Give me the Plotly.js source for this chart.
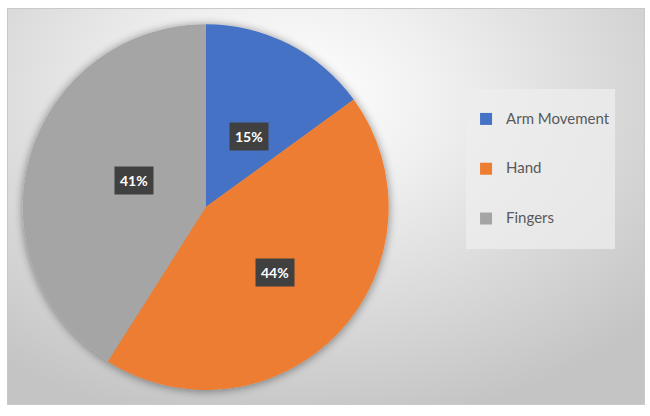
<!DOCTYPE html>
<html>
<head>
<meta charset="utf-8">
<script src="https://cdn.plot.ly/plotly-3.0.1.min.js"></script>
<style>
  html, body { margin: 0; padding: 0; background: #ffffff; }
  #wrap { position: relative; width: 650px; height: 416px; }
  #frame {
    position: absolute; left: 7px; top: 8px; width: 636px; height: 395px;
    border: 1px solid #c9c9c9;
    background: radial-gradient(ellipse 75% 85% at 45% 22%, #ffffff 0%, #f0f0f0 30%, #dcdcdc 62%, #c4c4c4 100%);
  }
  #chart { position: absolute; left: 0; top: 0; width: 650px; height: 416px; }
  .pielayer { filter: url(#softshadow); }
</style>
</head>
<body>
<svg width="0" height="0" style="position:absolute">
  <defs>
    <filter id="softshadow" x="-10%" y="-10%" width="120%" height="120%">
      <feGaussianBlur in="SourceAlpha" stdDeviation="5"/>
      <feOffset dx="0" dy="1" result="blur"/>
      <feComponentTransfer><feFuncA type="linear" slope="0.45"/></feComponentTransfer>
      <feMerge><feMergeNode/><feMergeNode in="SourceGraphic"/></feMerge>
    </filter>
  </defs>
</svg>
<div id="wrap">
  <div id="frame"></div>
  <div id="chart"></div>
</div>
<script>
var categories = ["Arm Movement", "Hand", "Fingers"];
var shares = [15, 44, 41];
var sliceColors = ["#4472C4", "#ED7D31", "#A5A5A5"];

// pie placement (paper fractions)
var dom = { x: [0.035, 0.598], y: [0.0625, 0.942] };
var cx = (dom.x[0] + dom.x[1]) / 2;
var cy = (dom.y[0] + dom.y[1]) / 2;
var rPx = (dom.x[1] - dom.x[0]) * 650 / 2;
var labelFrac = 0.52;

// data labels in dark boxes at the middle of each slice
var total = shares.reduce(function (a, b) { return a + b; }, 0);
var acc = 0;
var annotations = [];
for (var i = 0; i < shares.length; i++) {
  var mid = (acc + shares[i] / 2) / total * 2 * Math.PI;
  acc += shares[i];
  var dx = Math.sin(mid) * rPx * labelFrac;
  var dy = Math.cos(mid) * rPx * labelFrac;
  annotations.push({
    x: cx + dx / 650,
    y: cy + dy / 416,
    xref: "paper",
    yref: "paper",
    text: "<b>" + Math.round(shares[i] / total * 100) + "%</b>",
    showarrow: false,
    bgcolor: "#404040",
    borderpad: 5,
    font: { family: "Lato, sans-serif", size: 14, color: "#ffffff" },
  });
}

// legend rows are padded with blank lines to spread them out like the original
var legendLabels = categories.map(function (c) {
  return "<br><span style='font-size:15px'>" + c + "</span><br> ";
});

Plotly.newPlot(
  "chart",
  [
    {
      type: "pie",
      labels: legendLabels,
      values: shares,
      marker: { colors: sliceColors, line: { width: 0 } },
      sort: false,
      direction: "clockwise",
      rotation: 0,
      textinfo: "none",
      hoverinfo: "none",
      domain: dom,
    },
  ],
  {
    width: 650,
    height: 416,
    margin: { l: 0, r: 0, t: 0, b: 0 },
    paper_bgcolor: "rgba(0,0,0,0)",
    plot_bgcolor: "rgba(0,0,0,0)",
    showlegend: true,
    legend: {
      x: 0.717,
      y: 0.786,
      xanchor: "left",
      yanchor: "top",
      bgcolor: "rgba(238,238,238,0.75)",
      borderwidth: 0,
      font: { family: "Lato, sans-serif", size: 12, color: "#595959" },
      valign: "middle",
    },
    annotations: annotations,
  },
  { displayModeBar: false, staticPlot: true }
);
</script>
</body>
</html>
